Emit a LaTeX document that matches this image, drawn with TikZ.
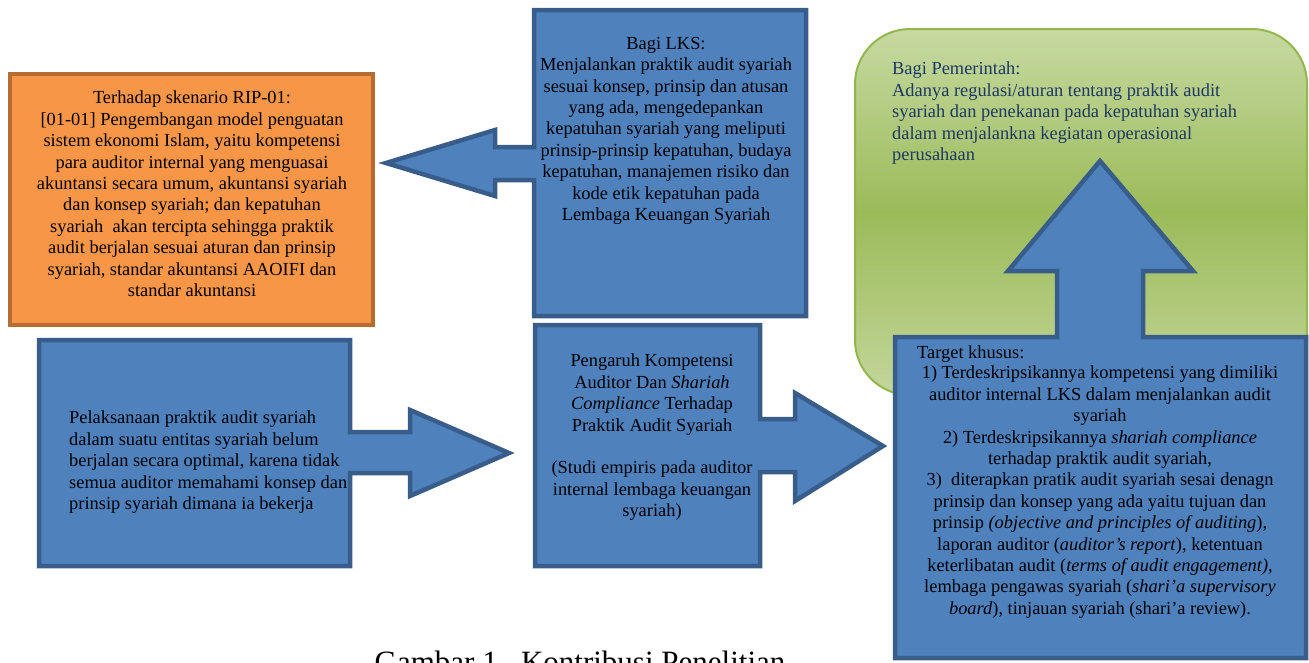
\documentclass[tikz,border=0pt]{standalone}
\usepackage{fontspec}
\setmainfont{Liberation Serif}
\definecolor{bfill}{HTML}{4F81BD}
\definecolor{bline}{HTML}{385D8A}
\definecolor{ofill}{HTML}{F79646}
\definecolor{oline}{HTML}{B66D31}
\definecolor{gtop}{HTML}{C6D9A1}
\definecolor{gmid}{HTML}{9BBB59}
\definecolor{gbot}{HTML}{C3D69B}
\definecolor{gline}{HTML}{94B64E}
\definecolor{gtext}{HTML}{1F3864}
\begin{document}
\begin{tikzpicture}[x=1pt,y=-1pt,
  blueshape/.style={fill=bfill,draw=bline,line width=4.5pt,line join=miter},
  txt/.style={font=\fontsize{18.4}{21.4}\selectfont,inner sep=0pt,text=black}]
\useasboundingbox (0,0) rectangle (1309,662);

% orange box
\draw[fill=ofill,draw=oline,line width=4.5pt] (10,74) rectangle (373,325);
\node[txt,align=center,anchor=north] (orangetext) at (192,91) {Terhadap skenario RIP-01:\\
{[}01-01{]} Pengembangan model penguatan\\
sistem ekonomi Islam, yaitu kompetensi\\
para auditor internal yang menguasai\\
akuntansi secara umum, akuntansi syariah\\
dan konsep syariah; dan kepatuhan\\
syariah\ \ akan tercipta sehingga praktik\\
audit berjalan sesuai aturan dan prinsip\\
syariah, standar akuntansi AAOIFI dan\\
standar akuntansi};

% LKS box with left arrow
\draw[blueshape] (534,10) -- (806,10) -- (806,316) -- (534,316) -- (534,180)
  -- (495,180) -- (495,196) -- (386,163) -- (495,130) -- (495,147) -- (534,147) -- cycle;
\node[txt,align=center,anchor=north] (lkstext) at (666,37) {Bagi LKS:\\
Menjalankan praktik audit syariah\\
sesuai konsep, prinsip dan atusan\\
yang ada, mengedepankan\\
kepatuhan syariah yang meliputi\\
prinsip-prinsip kepatuhan, budaya\\
kepatuhan, manajemen risiko dan\\
kode etik kepatuhan pada\\
Lembaga Keuangan Syariah};

% green rounded box
\shade[rounded corners=55pt,top color=gtop,bottom color=gbot,middle color=gmid]
  (855,29) rectangle (1307,395);
\draw[rounded corners=55pt,draw=gline,line width=2pt] (855,29) rectangle (1307,395);
\node[txt,align=left,anchor=north west,text=gtext] (govtext) at (892,62) {Bagi Pemerintah:\\
Adanya regulasi/aturan tentang praktik audit\\
syariah dan penekanan pada kepatuhan syariah\\
dalam menjalankna kegiatan operasional\\
perusahaan};

% target box with up arrow
\draw[blueshape] (895,337) -- (1057,337) -- (1057,271) -- (1008,271) -- (1100,161)
  -- (1193,271) -- (1143,271) -- (1143,337) -- (1306,337) -- (1306,658) -- (895,658) -- cycle;
\node[txt,anchor=north west] (targethead) at (917,346) {Target khusus:};
\node[txt,align=center,anchor=north] (targettext) at (1100,366) {1) Terdeskripsikannya kompetensi yang dimiliki\\
auditor internal LKS dalam menjalankan audit\\
syariah\\
2) Terdeskripsikannya \textit{shariah compliance}\\
terhadap praktik audit syariah,\\
3)\ \ diterapkan pratik audit syariah sesai denagn\\
prinsip dan konsep yang ada yaitu tujuan dan\\
prinsip \textit{(objective and principles of auditing}),\\
laporan auditor (\textit{auditor’s report}), ketentuan\\
keterlibatan audit (\textit{terms of audit engagement),}\\
lembaga pengawas syariah (\textit{shari’a supervisory}\\
\textit{board}), tinjauan syariah (shari’a review).};

% left box with right arrow
\draw[blueshape] (39,340) -- (350,340) -- (350,432) -- (410,432) -- (410,410) -- (509,453)
  -- (410,496) -- (410,473) -- (350,473) -- (350,566) -- (39,566) -- cycle;
\node[txt,align=left,anchor=north west] (lefttext) at (69,411) {Pelaksanaan praktik audit syariah\\
dalam suatu entitas syariah belum\\
berjalan secara optimal, karena tidak\\
semua auditor memahami konsep dan\\
prinsip syariah dimana ia bekerja};

% middle box with right arrow
\draw[blueshape] (535,325) -- (760,325) -- (760,419) -- (795,419) -- (795,393) -- (883,446)
  -- (795,501) -- (795,472) -- (760,472) -- (760,566) -- (535,566) -- cycle;
\node[txt,align=center,anchor=north] (midtext) at (652,354) {Pengaruh Kompetensi\\
Auditor Dan \textit{Shariah}\\
\textit{Compliance} Terhadap\\
Praktik Audit Syariah\\[21.4pt]
(Studi empiris pada auditor\\
internal lembaga keuangan\\
syariah)};

% caption (cut off at the bottom edge, as in the reference)
\node[font=\fontsize{31}{36}\selectfont,inner sep=0pt,anchor=base] (caption) at (580,672) {Gambar 1.\ \ Kontribusi Penelitian};
\end{tikzpicture}
\end{document}
